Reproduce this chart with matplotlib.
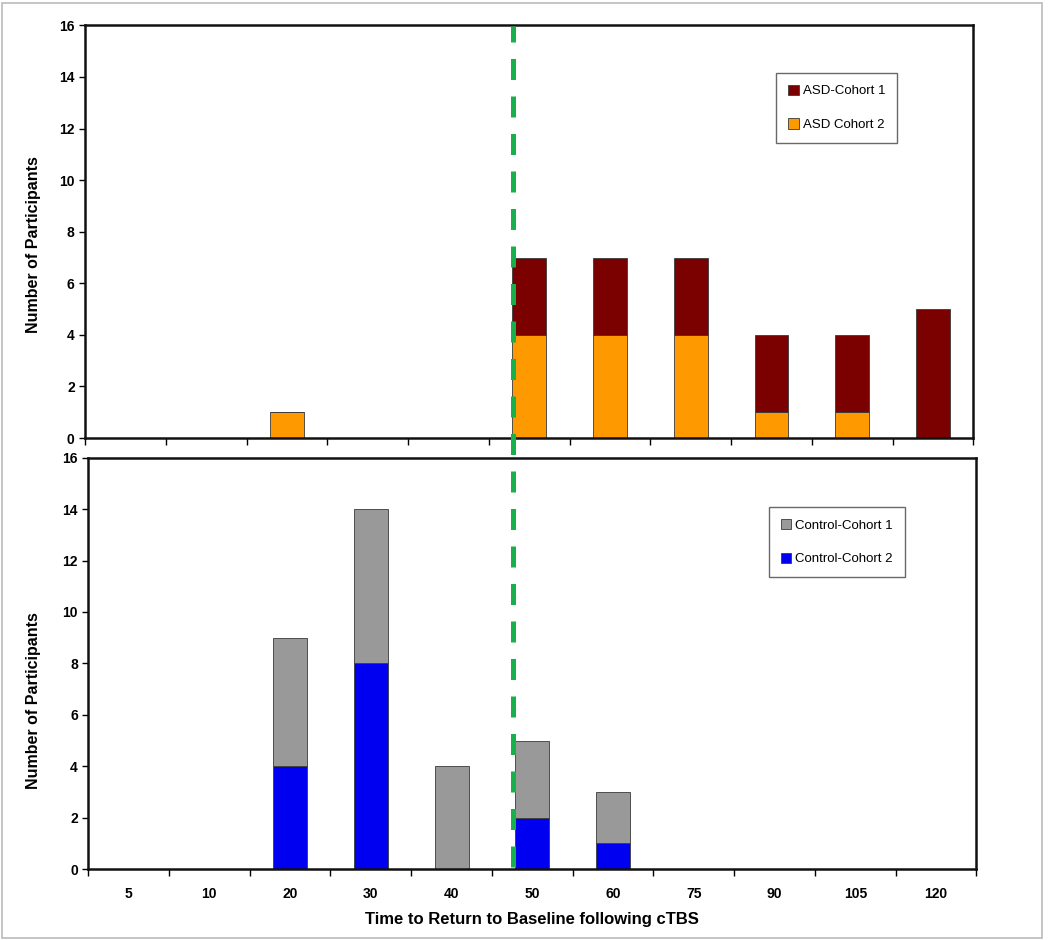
import matplotlib
matplotlib.use("Agg")
import matplotlib.pyplot as plt
from matplotlib.lines import Line2D
from matplotlib.patches import Rectangle
import numpy as np

plt.rcParams['font.family'] = ['Liberation Sans', 'DejaVu Sans']

categories = ['5', '10', '20', '30', '40', '50', '60', '75', '90', '105', '120']
asd_cohort2 = [0, 0, 1, 0, 0, 4, 4, 4, 1, 1, 0]
asd_cohort1 = [0, 0, 0, 0, 0, 3, 3, 3, 3, 3, 5]
ctrl_cohort2 = [0, 0, 4, 8, 0, 2, 1, 0, 0, 0, 0]
ctrl_cohort1 = [0, 0, 5, 6, 4, 3, 2, 0, 0, 0, 0]

x = np.arange(len(categories))
bw = 0.42

fig = plt.figure(figsize=(10.5, 9.4), dpi=100)
ax1 = fig.add_axes([0.081, 0.534, 0.846, 0.439])
ax2 = fig.add_axes([0.084, 0.0755, 0.846, 0.4375])

ec = '#3a3a3a'
ax1.bar(x, asd_cohort2, bw, color='#ff9900', edgecolor=ec, linewidth=0.6, label='ASD Cohort 2')
ax1.bar(x, asd_cohort1, bw, bottom=asd_cohort2, color='#7b0000', edgecolor=ec, linewidth=0.6, label='ASD-Cohort 1')
ax2.bar(x, ctrl_cohort2, bw, color='#0000f0', edgecolor=ec, linewidth=0.6, label='Control-Cohort 2')
ax2.bar(x, ctrl_cohort1, bw, bottom=ctrl_cohort2, color='#999999', edgecolor=ec, linewidth=0.6, label='Control-Cohort 1')

for ax in (ax1, ax2):
    ax.set_xlim(-0.5, len(categories) - 0.5)
    ax.set_ylim(0, 16)
    ax.set_yticks(range(0, 17, 2))
    ax.set_xticks(np.arange(-0.5, len(categories) + 0.5, 1), minor=False)
    ax.set_xticklabels([])
    ax.set_xticks(x, minor=True)
    ax.tick_params(axis='x', which='major', length=5, width=1, direction='out')
    ax.tick_params(axis='x', which='minor', length=0)
    ax.tick_params(axis='y', length=4, width=1, direction='out', labelsize=10)
    for lab in ax.get_yticklabels():
        lab.set_fontweight('bold')
    for s in ax.spines.values():
        s.set_linewidth(1.8)
        s.set_color('#111111')
    ax.set_ylabel('Number of Participants', fontsize=11.5, fontweight='bold')

ax1.yaxis.set_label_coords(-0.05, 0.47)
ax2.yaxis.set_label_coords(-0.053, 0.41)

ax2.set_xticklabels(categories, minor=True, fontsize=10, fontweight='bold')
ax2.tick_params(axis='x', which='minor', pad=13)
ax2.set_xlabel('Time to Return to Baseline following cTBS', fontsize=12, fontweight='bold', labelpad=8)

common = dict(fontsize=9.5, frameon=True, fancybox=False, edgecolor='#444444',
              handlelength=0.8, handleheight=0.8, labelspacing=1.6, borderpad=0.9,
              handletextpad=0.3, borderaxespad=0.0)
h, l = ax1.get_legend_handles_labels()
leg1 = ax1.legend(h[::-1], l[::-1], loc='upper left', bbox_to_anchor=(0.778, 0.885), **common)
leg1.get_frame().set_linewidth(1.0)
h, l = ax2.get_legend_handles_labels()
leg2 = ax2.legend(h[::-1], l[::-1], loc='upper left', bbox_to_anchor=(0.766, 0.88), **common)
leg2.get_frame().set_linewidth(1.0)

# green dashed threshold line spanning both panels
xline = 4.8
xd = ax1.transData.transform((xline, 0))[0]
xf = fig.transFigure.inverted().transform((xd, 0))[0]
fig.add_artist(Line2D([xf, xf], [0.078, 0.972], color='#17b04a', linewidth=3.6,
                      linestyle=(0, (4.2, 3.3)), transform=fig.transFigure))

# faint outer frame
fig.add_artist(Rectangle((0.002, 0.002), 0.99, 0.995, fill=False, edgecolor='#bbbbbb',
                         linewidth=1.2, transform=fig.transFigure))

fig.savefig('out.png', dpi=100)
